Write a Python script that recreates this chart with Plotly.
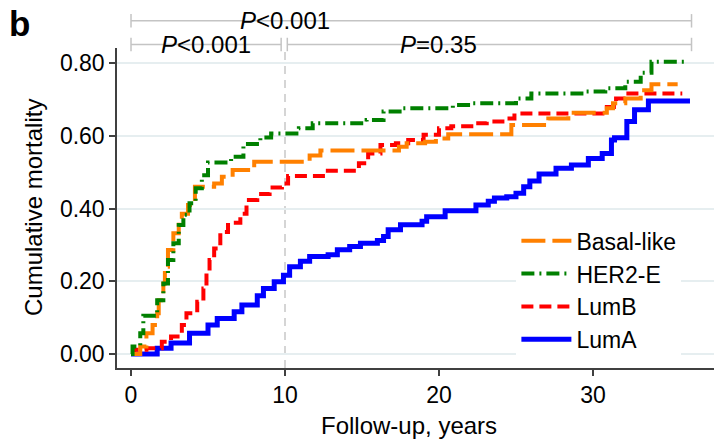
import plotly.graph_objects as go

# ---------------- data ----------------
lumA_t = [0, 1.7, 2.6, 3.8, 5.0, 5.6, 6.7, 7.2, 8.2, 8.6, 9.3, 9.9, 10.3, 11.0, 11.6, 12.8,
          13.4, 14.2, 14.9, 16.0, 16.4, 16.7, 17.5, 18.9, 19.2, 20.4, 22.4, 23.2, 23.6, 24.4,
          25.0, 25.5, 25.9, 26.5, 27.6, 28.6, 29.7, 30.6, 31.2, 31.4, 32.2, 32.7, 33.6, 36.3]
lumA_v = [0, 0.016, 0.03, 0.057, 0.08, 0.098, 0.116, 0.135, 0.16, 0.18, 0.199, 0.217, 0.24, 0.255, 0.268, 0.273,
          0.287, 0.296, 0.305, 0.312, 0.323, 0.342, 0.356, 0.365, 0.378, 0.394, 0.41, 0.42, 0.429, 0.433,
          0.442, 0.46, 0.476, 0.495, 0.511, 0.52, 0.538, 0.552, 0.589, 0.595, 0.64, 0.672, 0.696, 0.696]

her2_t = [0, 0.1, 0.6, 0.8, 1.7, 2.1, 2.4, 2.75, 3.1, 3.4, 3.8, 4.2, 4.6, 5.0, 6.5, 7.3, 8.4, 9.1,
          10.9, 11.8, 15.3, 16.4, 17.6, 20.9, 22.2, 25.0, 26.0, 29.5, 30.8, 32.1, 33.1, 33.8, 36.1]
her2_v = [0, 0.021, 0.057, 0.105, 0.148, 0.194, 0.259, 0.305, 0.355, 0.383, 0.415, 0.456, 0.492, 0.527, 0.543, 0.578, 0.596, 0.607,
          0.621, 0.635, 0.644, 0.667, 0.676, 0.685, 0.69, 0.703, 0.717, 0.722, 0.731, 0.749, 0.774, 0.804, 0.804]

basal_t = [0, 0.6, 1.0, 1.4, 1.7, 1.8, 2.1, 2.2, 2.4, 2.75, 3.1, 3.3, 3.7, 4.15, 5.4, 5.9, 6.6, 8.0,
           11.6, 12.3, 17.4, 17.9, 19.1, 19.8, 20.6, 24.7, 27.1, 28.4, 30.9, 31.3, 32.1, 33.1, 33.8, 35.5]
basal_v = [0, 0.021, 0.057, 0.08, 0.112, 0.148, 0.194, 0.24, 0.286, 0.332, 0.364, 0.386, 0.41, 0.46, 0.469, 0.488, 0.506, 0.529,
           0.546, 0.56, 0.57, 0.58, 0.584, 0.593, 0.605, 0.63, 0.648, 0.664, 0.676, 0.69, 0.703, 0.726, 0.742, 0.742]

lumB_t = [0, 0.2, 1.0, 2.0, 2.6, 3.3, 3.6, 4.3, 4.7, 4.9, 5.1, 5.4, 5.8, 6.3, 7.1, 7.5, 8.2, 9.0, 9.8,
          10.2, 12.6, 14.8, 15.4, 16.2, 17.2, 18.0, 19.0, 20.0, 20.8, 22.1, 23.1, 24.4, 24.9,
          30.9, 31.5, 32.3, 35.8]
lumB_v = [0, 0.012, 0.016, 0.034, 0.048, 0.08, 0.112, 0.144, 0.18, 0.222, 0.259, 0.29, 0.336, 0.361, 0.386, 0.424, 0.44, 0.458, 0.469,
          0.49, 0.504, 0.525, 0.552, 0.575, 0.58, 0.589, 0.603, 0.621, 0.627, 0.635, 0.64, 0.648, 0.662,
          0.68, 0.703, 0.717, 0.717]

y_ticks = [0, 0.2, 0.4, 0.6, 0.8]
y_tick_labels = ["0.00", "0.20", "0.40", "0.60", "0.80"]
x_ticks = [0, 10, 20, 30]
x_tick_labels = ["0", "10", "20", "30"]

landmark = 10
bracket_top = [0, 36.4]
bracket_left = [0, 9.75]
bracket_right = [10.15, 36.4]
p_labels = ["<i>P</i>&lt;0.001", "<i>P</i>&lt;0.001", "<i>P</i>=0.35"]
p_label_x = [10, 4.9, 20]

# ---------------- figure ----------------
FONT = "Liberation Sans, Arial, sans-serif"
fig = go.Figure()

series = [
    ("LumA", lumA_t, lumA_v, "#0000ff", 5, "solid", 4),
    ("LumB", lumB_t, lumB_v, "#ff0000", 4, "12px,6px", 3),
    ("Basal-like", basal_t, basal_v, "#ff8000", 4, "24px,7px", 1),
    ("HER2-E", her2_t, her2_v, "#008000", 4, "13px,5px,2px,5px", 2),
]
for name, t, v, col, w, dash, rank in series:
    fig.add_trace(go.Scatter(
        x=t, y=v, name=name, mode="lines", line_shape="hv",
        line=dict(color=col, width=w, dash=dash), legendrank=rank,
    ))

# vertical landmark line
fig.add_shape(type="line", xref="x", yref="paper", x0=landmark, x1=landmark, y0=0, y1=1,
              line=dict(color="#c8c8c8", width=1.5, dash="8px,6px"), layer="below")

# P-value brackets
GREY = "#c4c4c4"
def bracket(x0, x1, yp, cap=0.021):
    fig.add_shape(type="line", xref="x", yref="paper", x0=x0, x1=x1, y0=yp, y1=yp,
                  line=dict(color=GREY, width=1.5), layer="above")
    for xx in (x0, x1):
        fig.add_shape(type="line", xref="x", yref="paper", x0=xx, x1=xx, y0=yp - cap, y1=yp + cap,
                      line=dict(color=GREY, width=1.5), layer="above")

Y_TOP = 1.085
Y_SEC = 1.011
bracket(bracket_top[0], bracket_top[1], Y_TOP)
bracket(bracket_left[0], bracket_left[1], Y_SEC)
bracket(bracket_right[0], bracket_right[1], Y_SEC)

for txt, xx, yy in zip(p_labels, p_label_x, [Y_TOP, Y_SEC, Y_SEC]):
    fig.add_annotation(text=txt, x=xx, y=yy, xref="x", yref="paper", showarrow=False,
                       xanchor="center", yanchor="middle",
                       font=dict(family=FONT, size=24, color="black"))

# panel label
fig.add_annotation(text="<b>b</b>", x=0, y=1.078, xref="paper", yref="paper", xshift=-109,
                   xanchor="left", yanchor="middle", showarrow=False, borderpad=0,
                   font=dict(family=FONT, size=35, color="black"))

# axis titles as annotations
fig.add_annotation(text="Cumulative mortality", x=0, y=0.5, xref="paper", yref="paper",
                   xshift=-84, textangle=-90, showarrow=False, xanchor="center", yanchor="middle",
                   font=dict(family=FONT, size=24, color="black"))
fig.add_annotation(text="Follow-up, years", x=0.489, y=0, xref="paper", yref="paper",
                   yshift=-57, showarrow=False, xanchor="center", yanchor="middle",
                   font=dict(family=FONT, size=24, color="black"))

fig.update_layout(
    width=715, height=443, autosize=False,
    margin=dict(l=117, r=1, t=48, b=75, pad=0),
    paper_bgcolor="white", plot_bgcolor="white",
    font=dict(family=FONT, size=23, color="black"),
    showlegend=True,
    legend=dict(x=0.669, y=0.465, xanchor="left", yanchor="top", bgcolor="white",
                borderwidth=0, font=dict(family=FONT, size=23, color="black"),
                itemwidth=50, traceorder="normal"),
    xaxis=dict(range=[-0.91, 37.86], tickvals=x_ticks, ticktext=x_tick_labels,
               showline=True, linecolor="#404040", linewidth=1.5, ticks="outside",
               ticklen=6, tickwidth=1.5, tickcolor="#404040", showgrid=False, zeroline=False,
               ticklabelstandoff=0, tickfont=dict(family=FONT, size=23, color="black")),
    yaxis=dict(range=[-0.0385, 0.842], tickvals=y_ticks, ticktext=y_tick_labels,
               showline=True, linecolor="#404040", linewidth=1.5, ticks="outside",
               ticklen=6, tickwidth=1.5, tickcolor="#404040", showgrid=True,
               gridcolor="#e6eef0", gridwidth=1.5, zeroline=False,
               tickfont=dict(family=FONT, size=23, color="black")),
)

fig.write_html("out.html")
